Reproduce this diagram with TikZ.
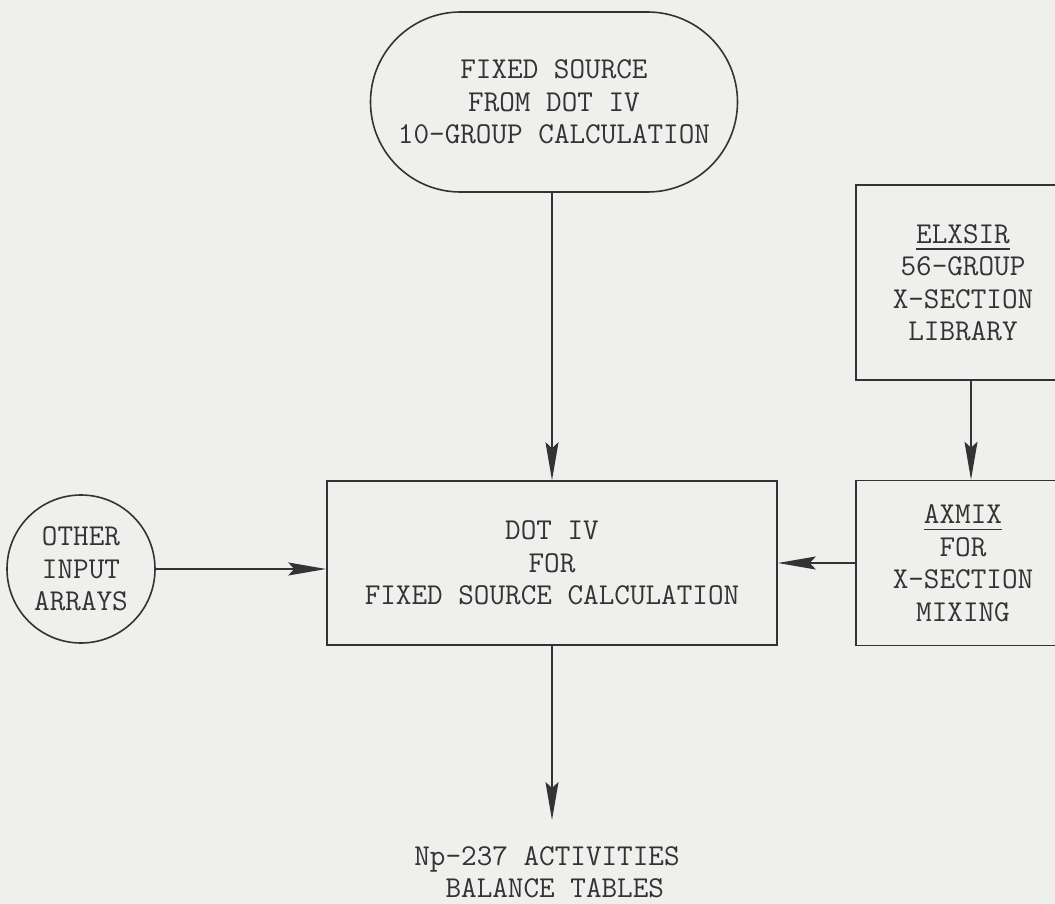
\documentclass[tikz,border=0pt]{standalone}
\usepackage{fontspec}
\usetikzlibrary{shapes.misc,shapes.geometric,arrows.meta}
\definecolor{ink}{HTML}{333333}
\definecolor{paper}{HTML}{EFEFED}
\newcommand\myul[1]{\setbox0\hbox{#1}\rlap{\copy0}\raisebox{-6.5pt}{\rule{\wd0}{1.5pt}}}
\begin{document}
\begin{tikzpicture}[x=1pt,y=1pt,
  every node/.style={font=\ttfamily\fontsize{30.3}{32.5}\selectfont, text=ink},
  box/.style={draw=ink, line width=1.6pt, rectangle, inner sep=0pt, align=center},
  conn/.style={draw=ink, line width=1.6pt, -{Stealth[length=38pt,width=13pt,inset=6pt]}}]
\fill[paper] (0,0) rectangle (1055,-904);
\useasboundingbox (0,0) rectangle (1055,-904);

\node[box, rounded rectangle, minimum width=367pt, minimum height=180pt] (src) at (554,-102)
  {FIXED SOURCE\\FROM DOT IV\\10-GROUP CALCULATION};
\node[box, minimum width=450pt, minimum height=164pt] (dot) at (552,-563)
  {DOT IV\\FOR\\FIXED SOURCE CALCULATION};
\node[box, circle, minimum size=148pt] (oth) at (81,-569)
  {OTHER\\INPUT\\ARRAYS};
\begin{scope}
  \clip (0,0) rectangle (1055,-904);
  \node[box, minimum width=214pt, minimum height=195pt] (elx) at (963,-282.5)
    {\myul{ELXSIR}\\56-GROUP\\X-SECTION\\LIBRARY};
  \node[box, minimum width=214pt, minimum height=165pt] (axm) at (963,-563)
    {\myul{AXMIX}\\FOR\\X-SECTION\\MIXING};
\end{scope}
\node[inner xsep=0pt, inner ysep=26pt, anchor=north, align=left] (out) at (547,-820)
  {Np-237 ACTIVITIES\\\phantom{XX}BALANCE TABLES};

\draw[conn] (dot.north |- src.south) -- (dot.north);
\draw[conn] (oth.east) -- (oth.east -| dot.west);
\draw[conn] ([xshift=8pt]elx.south) -- ([xshift=8pt]axm.north);
\draw[conn] (axm.west) -- (axm.west -| dot.east);
\draw[conn] (dot.south) -- (dot.south |- out.north);
\end{tikzpicture}
\end{document}
